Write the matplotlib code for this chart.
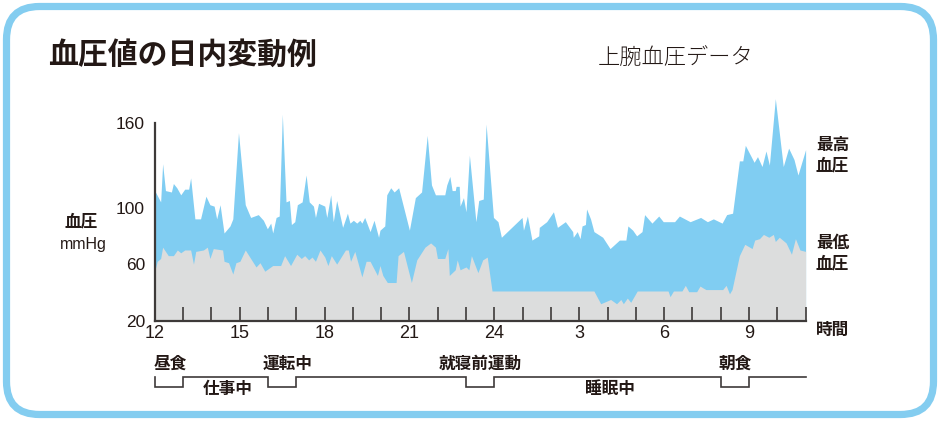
import matplotlib
matplotlib.use('Agg')
import matplotlib.pyplot as plt
from matplotlib.patches import FancyBboxPatch

plt.rcParams['font.family'] = ['Noto Sans CJK JP', 'DejaVu Sans']

# ---------------- data ----------------
# hours since 0:00 of day 1 (24 = midnight, 33 = 9:00 next morning)
sys_t = [12.00, 12.21, 12.28, 12.38, 12.59, 12.66, 12.78, 12.92, 13.06, 13.20,
         13.27, 13.42, 13.62, 13.81, 13.95, 14.10, 14.19, 14.31, 14.45, 14.66,
         14.76, 14.96, 15.20, 15.39, 15.66, 15.84, 15.98, 16.10, 16.17, 16.29,
         16.40, 16.51, 16.64, 16.76, 16.83, 16.95, 17.04, 17.21, 17.35, 17.46,
         17.61, 17.68, 17.79, 18.01, 18.08, 18.22, 18.31, 18.43, 18.64, 18.81,
         18.90, 19.02, 19.14, 19.25, 19.32, 19.42, 19.61, 19.75, 19.91, 19.96,
         20.13, 20.20, 20.34, 20.46, 20.62, 21.00, 21.21, 21.43, 21.63, 21.78,
         21.92, 22.25, 22.32, 22.43, 22.51, 22.62, 22.65, 22.76, 22.79, 22.91,
         23.00, 23.12, 23.35, 23.45, 23.61, 23.71, 23.97, 24.13, 24.25, 24.98,
         25.03, 25.17, 25.33, 25.57, 25.59, 25.85, 26.09, 26.23, 26.51, 26.77,
         26.79, 26.93, 27.03, 27.10, 27.22, 27.26, 27.40, 27.52, 27.83, 28.09,
         28.42, 28.65, 28.72, 28.89, 29.03, 29.22, 29.31, 29.57, 29.81, 29.97,
         30.37, 30.54, 30.92, 31.29, 31.53, 31.74, 32.05, 32.21, 32.42, 32.66,
         32.78, 32.87, 33.18, 33.30, 33.46, 33.60, 33.72, 33.93, 34.21, 34.40,
         34.59, 34.73, 35.00]
sys_v = [112, 104, 131, 112, 111, 117, 114, 109, 113, 113,
         121, 92, 92, 108, 102, 101, 92, 102, 82, 87,
         92, 153, 102, 93, 95, 91, 85, 89, 82, 93,
         94, 166, 104, 105, 88, 90, 102, 104, 123, 104,
         101, 93, 103, 101, 93, 109, 90, 105, 86, 96,
         89, 91, 89, 91, 89, 93, 83, 91, 79, 84,
         87, 109, 114, 111, 114, 84, 107, 111, 151, 116,
         109, 109, 116, 122, 112, 112, 115, 115, 101, 107,
         97, 137, 90, 105, 106, 159, 93, 90, 79, 93,
         84, 94, 77, 80, 86, 90, 97, 86, 90, 83,
         79, 83, 78, 87, 88, 99, 92, 83, 79, 71,
         77, 77, 87, 84, 80, 83, 95, 89, 94, 90,
         90, 94, 90, 93, 90, 92, 89, 95, 96, 133,
         133, 144, 132, 136, 129, 140, 130, 177, 129, 142,
         134, 123, 141]

dia_t = [12.00, 12.09, 12.21, 12.28, 12.48, 12.66, 12.80, 12.92, 13.06, 13.27,
         13.37, 13.45, 13.72, 13.86, 13.95, 14.07, 14.40, 14.45, 14.61, 14.76,
         14.87, 15.01, 15.20, 15.58, 15.72, 15.89, 16.17, 16.45, 16.59, 16.80,
         17.02, 17.18, 17.30, 17.44, 17.56, 17.68, 17.84, 18.01, 18.12, 18.24,
         18.43, 18.74, 18.84, 18.92, 19.07, 19.32, 19.47, 19.61, 19.87, 19.96,
         20.06, 20.22, 20.53, 20.60, 20.79, 21.07, 21.26, 21.55, 21.75, 21.92,
         21.99, 22.25, 22.36, 22.41, 22.62, 22.69, 22.79, 23.00, 23.10, 23.19,
         23.42, 23.59, 23.75, 23.92, 27.52, 27.76, 28.11, 28.32, 28.47, 28.56,
         28.70, 28.82, 29.05, 30.14, 30.21, 30.33, 30.63, 30.75, 30.87, 31.15,
         31.27, 31.39, 31.48, 32.07, 32.19, 32.31, 32.40, 32.66, 32.85, 33.11,
         33.20, 33.37, 33.51, 33.70, 33.86, 33.93, 34.07, 34.31, 34.50, 34.64,
         34.80, 35.00]
dia_v = [55, 62, 64, 72, 66, 66, 70, 68, 70, 70,
         60, 69, 70, 72, 64, 71, 70, 62, 61, 53,
         61, 62, 70, 58, 61, 55, 59, 59, 66, 59,
         67, 64, 66, 63, 65, 62, 70, 65, 59, 66,
         60, 70, 70, 62, 69, 51, 62, 62, 52, 59,
         52, 47, 47, 66, 69, 47, 63, 72, 75, 72,
         64, 64, 71, 52, 56, 63, 56, 58, 56, 66,
         54, 63, 65, 41, 41, 32, 35, 32, 35, 32,
         36, 33, 41, 41, 37, 41, 41, 45, 40.5, 40.5,
         44.5, 43, 42, 42, 45, 39, 42, 66, 74, 71,
         77, 78, 81, 79, 81, 76, 79, 75, 67, 78,
         70, 69]

hour_ticks = list(range(12, 36))
hour_labels = {12: '12', 15: '15', 18: '18', 21: '21', 24: '24', 27: '3', 30: '6', 33: '9'}
y_ticks = [20, 60, 100, 160]

# activity timeline: (start, end) dips with label position
dips = [(12, 13), (16, 17), (23, 24), (32, 33)]
upper_labels = [(12.54, '昼食'), (16.69, '運転中'), (23.49, '就寝前運動'), (32.5, '朝食')]
lower_labels = [(14.57, '仕事中'), (28.09, '睡眠中')]

# ---------------- style ----------------
BLUE = '#80cdf2'
GRAY = '#dcdddd'
INK = '#231815'
LINE = '#3e3a39'
W, H = 940, 421

fig = plt.figure(figsize=(W / 100, H / 100), dpi=100)
fig.patch.set_facecolor('white')


def px(l, t, r, b):
    return [l / W, 1 - b / H, (r - l) / W, (b - t) / H]


# rounded border
border = FancyBboxPatch((0.065, 0.065), W / 100 - 0.13, H / 100 - 0.13,
                        boxstyle='round,pad=0,rounding_size=0.33',
                        transform=fig.dpi_scale_trans, fill=False,
                        ec='#84cdf0', lw=5.2, zorder=0)
fig.patches.append(border)

ax = fig.add_axes(px(154.7, 94.4, 805.6, 320.7))
ax.set_xlim(12, 35)
ax.set_ylim(20, 180)
ax.fill_between(sys_t, 20, sys_v, color=BLUE, lw=0, zorder=1)
ax.fill_between(dia_t, 20, dia_v, color=GRAY, lw=0, zorder=2)

for s in ['top', 'right']:
    ax.spines[s].set_visible(False)
ax.spines['left'].set_bounds(20, 160)
for s in ['left', 'bottom']:
    ax.spines[s].set_color(LINE)
    ax.spines[s].set_linewidth(1.6)
    ax.spines[s].set_zorder(5)

ax.set_xticks(hour_ticks)
ax.set_xticklabels([hour_labels.get(h, '') for h in hour_ticks],
                   family=['Liberation Sans', 'DejaVu Sans'], fontsize=13, color=INK)
ax.tick_params(axis='x', direction='in', length=10, width=1.2, color=LINE, pad=3)
ax.set_yticks(y_ticks)
ax.set_yticklabels([str(v) for v in y_ticks],
                   family=['Liberation Sans', 'DejaVu Sans'], fontsize=12.5, color=INK)
ax.tick_params(axis='y', length=0, pad=7)
ax.set_axisbelow(False)

# texts
fig.text(48 / W, 1 - 55 / H, '血圧値の日内変動例', fontsize=21.5, weight='bold',
         color=INK, ha='left', va='center')
fig.text(598 / W, 1 - 58 / H, '上腕血圧データ', fontsize=16, weight='light',
         color=INK, ha='left', va='center')
fig.text(81 / W, 1 - 222 / H, '血圧', fontsize=12, weight='bold', color=INK,
         ha='center', va='center')
fig.text(83 / W, 1 - 244 / H, 'mmHg', fontsize=11.5, color=INK,
         family=['Liberation Sans', 'DejaVu Sans'], ha='center', va='center')
for txt, yy in [('最高\n血圧', 155), ('最低\n血圧', 253), ('時間', 330)]:
    fig.text(816 / W, 1 - yy / H, txt, fontsize=12, weight='bold', color=INK,
             ha='left', va='center', linespacing=1.15)

# timeline
axt = fig.add_axes(px(154.7, 340, 805.6, 410))
axt.set_xlim(12, 35)
axt.set_ylim(410, 340)
axt.axis('off')
TOP, BOT = 376.5, 386.5
xs, ys = [], []
for a, b in dips:
    xs += [a, a, b, b]
    ys += [TOP, BOT, BOT, TOP]
xs.append(35)
ys.append(TOP)
axt.plot(xs, ys, color=LINE, lw=1.2, solid_joinstyle='miter', clip_on=False)
for h, t in upper_labels:
    axt.text(h, 363.5, t, fontsize=12, weight='bold', color=INK, ha='center', va='center')
for h, t in lower_labels:
    axt.text(h, 389, t, fontsize=12, weight='bold', color=INK, ha='center', va='center')

fig.savefig('out.png', dpi=100, facecolor='white')
